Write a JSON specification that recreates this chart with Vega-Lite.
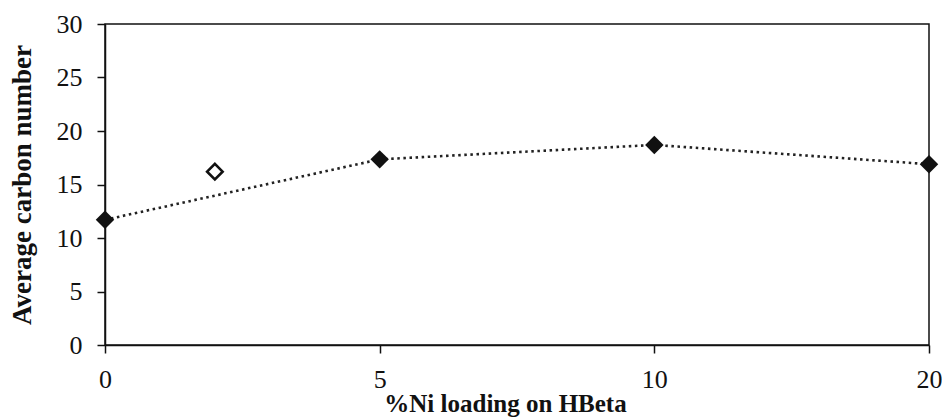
{
  "$schema": "https://vega.github.io/schema/vega-lite/v6.json",
  "autosize": "none",
  "width": 824,
  "height": 321,
  "padding": {"left": 105, "top": 24, "right": 13, "bottom": 75},
  "background": "white",
  "config": {
    "font": "Liberation Serif",
    "view": {"stroke": "#111", "strokeWidth": 1.5}
  },
  "datasets": {
    "series": [
      {"loading": 0, "carbon": 11.7},
      {"loading": 5, "carbon": 17.35},
      {"loading": 10, "carbon": 18.7},
      {"loading": 20, "carbon": 16.9}
    ],
    "extra": [
      {"loading": 2, "carbon": 16.2}
    ]
  },
  "layer": [
    {
      "data": {"name": "series"},
      "mark": {"type": "line", "interpolate": "linear", "color": "#222", "strokeWidth": 2.6, "strokeDash": [2.5, 3.6]},
      "encoding": {
        "x": {"field": "loading", "type": "quantitative",
          "scale": {"domain": [0, 5, 10, 20], "range": [0, 274.67, 549.33, 824]},
          "axis": {"values": [0, 5, 10, 20], "title": "%Ni loading on HBeta", "labelPadding": 13, "titlePadding": -1, "titleX": 400, "labelFlush": false,
            "domainColor": "#111", "domainWidth": 1.5, "tickColor": "#111", "tickWidth": 1.5, "tickSize": 8, "grid": false,
            "labelFont": "Liberation Serif", "labelFontSize": 26, "labelColor": "#111",
            "titleFont": "Liberation Serif", "titleFontSize": 25, "titleFontWeight": "bold", "titleColor": "#111"}},
        "y": {"field": "carbon", "type": "quantitative",
          "scale": {"domain": [0, 30], "nice": false},
          "axis": {"values": [0, 5, 10, 15, 20, 25, 30], "title": "Average carbon number", "labelPadding": 15, "titlePadding": 20,
            "domainColor": "#111", "domainWidth": 1.5, "tickColor": "#111", "tickWidth": 1.5, "tickSize": 8, "grid": false,
            "labelFont": "Liberation Serif", "labelFontSize": 26, "labelColor": "#111",
            "titleFont": "Liberation Serif", "titleFontSize": 27, "titleFontWeight": "bold", "titleColor": "#111"}}
      }
    },
    {
      "data": {"name": "series"},
      "mark": {"type": "point", "shape": "diamond", "filled": true, "color": "#111", "size": 340, "opacity": 1},
      "encoding": {
        "x": {"field": "loading", "type": "quantitative"},
        "y": {"field": "carbon", "type": "quantitative"}
      }
    },
    {
      "data": {"name": "extra"},
      "mark": {"type": "point", "shape": "diamond", "filled": false, "color": "#111", "strokeWidth": 2.6, "size": 240, "opacity": 1},
      "encoding": {
        "x": {"field": "loading", "type": "quantitative"},
        "y": {"field": "carbon", "type": "quantitative"}
      }
    }
  ]
}
